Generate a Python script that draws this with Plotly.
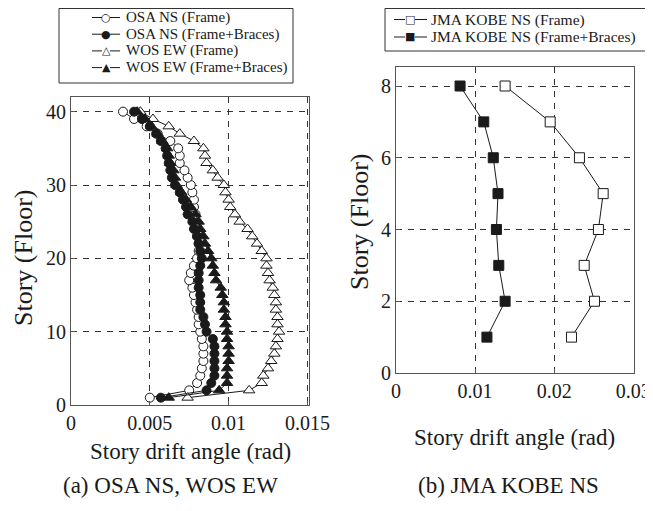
import plotly.graph_objects as go

floors_a = list(range(1, 41))
osa_frame = [0.0050, 0.0075, 0.0080, 0.0082, 0.0083, 0.0084, 0.0084, 0.0084, 0.0083, 0.0082,
             0.0081, 0.0081, 0.0080, 0.0079, 0.0078, 0.0077, 0.0075, 0.0076, 0.0078, 0.0080,
             0.0081, 0.0081, 0.0080, 0.0080, 0.0079, 0.0079, 0.0078, 0.0078, 0.0077, 0.0076,
             0.0074, 0.0072, 0.0069, 0.0069, 0.0068, 0.0063, 0.0055, 0.0048, 0.0040, 0.0033]
osa_braces = [0.0057, 0.0086, 0.0089, 0.0091, 0.0091, 0.0091, 0.0091, 0.0091, 0.0090, 0.0086,
              0.0085, 0.0084, 0.0082, 0.0082, 0.0082, 0.0081, 0.0081, 0.0081, 0.0082, 0.0083,
              0.0082, 0.0081, 0.0080, 0.0078, 0.0077, 0.0074, 0.0073, 0.0071, 0.0069, 0.0066,
              0.0064, 0.0063, 0.0062, 0.0061, 0.0060, 0.0057, 0.0054, 0.0050, 0.0045, 0.0040]
wos_frame = [0.0074, 0.0113, 0.0121, 0.0122, 0.0125, 0.0127, 0.0129, 0.0130, 0.0131, 0.0132,
             0.0131, 0.0131, 0.0130, 0.0130, 0.0129, 0.0128, 0.0126, 0.0125, 0.0124, 0.0124,
             0.0121, 0.0118, 0.0115, 0.0112, 0.0107, 0.0104, 0.0101, 0.0100, 0.0098, 0.0097,
             0.0093, 0.0090, 0.0086, 0.0085, 0.0084, 0.0078, 0.0069, 0.0062, 0.0052, 0.0044]
wos_braces = [0.0062, 0.0094, 0.0099, 0.0099, 0.0099, 0.0100, 0.0100, 0.0100, 0.0099, 0.0099,
              0.0098, 0.0098, 0.0097, 0.0097, 0.0096, 0.0095, 0.0092, 0.0091, 0.0090, 0.0089,
              0.0087, 0.0085, 0.0084, 0.0082, 0.0081, 0.0079, 0.0076, 0.0073, 0.0070, 0.0067,
              0.0066, 0.0065, 0.0063, 0.0062, 0.0061, 0.0058, 0.0055, 0.0051, 0.0047, 0.0042]

floors_b = [1, 2, 3, 4, 5, 6, 7, 8]
kobe_frame = [0.0222, 0.0251, 0.0238, 0.0256, 0.0262, 0.0232, 0.0195, 0.0138]
kobe_braces = [0.0115, 0.0138, 0.0130, 0.0127, 0.0129, 0.0123, 0.0111, 0.0081]

x_ticks_a = [0, 0.005, 0.01, 0.015]
x_labels_a = ["0", "0.005", "0.01", "0.015"]
y_ticks_a = [0, 10, 20, 30, 40]
x_ticks_b = [0, 0.01, 0.02, 0.03]
x_labels_b = ["0", "0.01", "0.02", "0.03"]
y_ticks_b = [0, 2, 4, 6, 8]

names_a = ["OSA NS (Frame)", "OSA NS (Frame+Braces)", "WOS EW (Frame)", "WOS EW (Frame+Braces)"]
glyphs_a = ["\u25cb", "\u25cf", "\u25b3", "\u25b2"]
names_b = ["JMA KOBE NS (Frame)", "JMA KOBE NS (Frame+Braces)"]
glyphs_b = ["\u25a1", "\u25a0"]

FONT = "Liberation Serif"
INK = "#1a1a1a"

fig = go.Figure()

def add(x, y, name, symbol, fill, xa, ya):
    fig.add_trace(go.Scatter(
        x=x, y=y, name=name, mode="lines+markers",
        xaxis=xa, yaxis=ya, showlegend=False,
        line=dict(color=INK, width=1),
        marker=dict(symbol=symbol, size=9 if "circle" in symbol else 10,
                    color=INK if fill else "white",
                    line=dict(color=INK, width=1)),
    ))

series_a = [osa_frame, osa_braces, wos_frame, wos_braces]
syms_a = [("circle", False), ("circle", True), ("triangle-up", False), ("triangle-up", True)]
for vals, nm, (sym, fill) in zip(series_a, names_a, syms_a):
    add(vals, floors_a, nm, sym, fill, "x", "y")
series_b = [kobe_frame, kobe_braces]
syms_b = [("square", False), ("square", True)]
for vals, nm, (sym, fill) in zip(series_b, names_b, syms_b):
    add(vals, floors_b, nm, sym, fill, "x2", "y2")

# page body has an 8px margin; work in window pixel coordinates
OFF = 8
W, H = 653 - OFF, 511 - OFF
def px(v):
    return (v - OFF) / W
def py(v):
    return 1 - (v - OFF) / H

axis_common = dict(
    showline=True, linecolor="#555", linewidth=1, mirror=True,
    showgrid=True, gridcolor="#333", griddash="6px,6px", gridwidth=1,
    zeroline=False, ticks="inside", ticklen=4, tickcolor="#555",
    automargin=False,
    tickfont=dict(family=FONT, size=20, color=INK),
)

def ann(text, x, y, size, angle=0, xanchor="center", family=FONT):
    return dict(text=text, x=px(x), y=py(y), xref="paper", yref="paper",
                xanchor=xanchor, yanchor="middle", showarrow=False,
                textangle=angle, font=dict(family=family, size=size, color=INK))

def seg(x0, x1, y):
    return dict(type="line", xref="paper", yref="paper", x0=px(x0), x1=px(x1),
                y0=py(y), y1=py(y), line=dict(color=INK, width=1))

def box(x0, y0, x1, y1):
    return dict(type="rect", xref="paper", yref="paper", x0=px(x0), x1=px(x1),
                y0=py(y1), y1=py(y0), line=dict(color="#333", width=1),
                fillcolor="rgba(0,0,0,0)")

annotations = [
    ann("Story drift angle (rad)", 190, 451, 23),
    ann("Story drift angle (rad)", 514, 437, 23),
    ann("Story (Floor)", 23, 258, 26, -90),
    ann("Story (Floor)", 359, 222, 26, -90),
    ann("(a) OSA NS, WOS EW", 170, 485, 23),
    ann("(b) JMA KOBE NS", 508, 485, 23),
]
shapes = [box(59, 8.5, 293, 83), box(385, 8.5, 646, 51)]

# legend (a)
rows_a = [17.5, 34.2, 50.9, 67.6]
for nm, g, ry in zip(names_a, glyphs_a, rows_a):
    shapes.append(seg(92, 102, ry))
    shapes.append(seg(110, 120, ry))
    annotations.append(ann(g, 106, ry, 11, family="DejaVu Sans"))
    annotations.append(ann(nm, 124, ry, 15, xanchor="left"))

# legend (b)
rows_b = [19.5, 37.0]
for nm, g, ry in zip(names_b, glyphs_b, rows_b):
    shapes.append(seg(394, 405, ry))
    shapes.append(seg(415, 427, ry))
    annotations.append(ann(g, 410, ry, 11, family="DejaVu Sans"))
    annotations.append(ann(nm, 429, ry, 15.5, xanchor="left"))

fig.update_layout(
    width=W, height=H,
    margin=dict(l=0, r=0, t=0, b=0, autoexpand=False),
    paper_bgcolor="white", plot_bgcolor="white",
    font=dict(family=FONT, color=INK),
    showlegend=False,
    xaxis=dict(domain=[px(71), px(309)], range=[0, 0.0151], tickvals=x_ticks_a,
               ticktext=x_labels_a, anchor="y", **axis_common),
    yaxis=dict(domain=[py(405), py(97)], range=[0, 42], tickvals=y_ticks_a, anchor="x",
               **axis_common),
    xaxis2=dict(domain=[px(396), px(634)], range=[0, 0.0301], tickvals=x_ticks_b,
                ticktext=x_labels_b, anchor="y2", **axis_common),
    yaxis2=dict(domain=[py(373), py(67)], range=[0, 8.53], tickvals=y_ticks_b, anchor="x2",
                **axis_common),
    annotations=annotations,
    shapes=shapes,
)

fig.write_html("out.html")
